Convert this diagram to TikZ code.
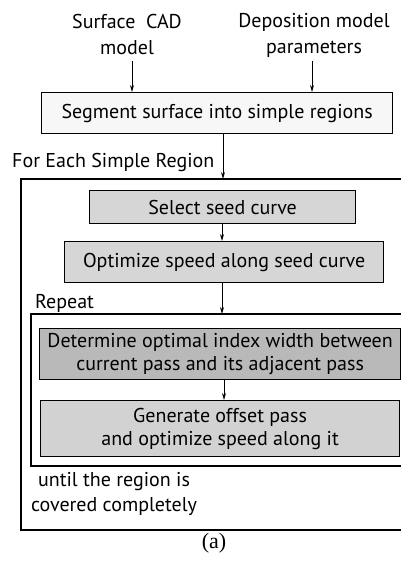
\documentclass[tikz,border=0pt]{standalone}
\usepackage{fontspec}
\setmainfont{PT Sans}
\newfontfamily\capfont{Liberation Serif}
\usetikzlibrary{arrows.meta}
\begin{document}
\begin{tikzpicture}[x=1pt,y=-1pt,
  every node/.style={font=\fontsize{20}{23}\selectfont, inner sep=0pt},
  boxa/.style={draw, line width=1.2pt, anchor=north west},
  arr/.style={-{Stealth[length=7pt,width=4pt]}, line width=0.8pt},
  frame/.style={line width=1.2pt}]
\useasboundingbox (0,0) rectangle (401,561);
\node[align=center, font=\fontsize{20}{26}\selectfont] (surf) at (127,35) {Surface\ \ CAD\\model};
\node[align=center, font=\fontsize{20}{26}\selectfont] (dep) at (314,35) {Deposition model\\parameters};
\node[boxa, fill=gray!6, minimum width=351pt, minimum height=41pt] (seg) at (41,92) {};
\node (segt) at (seg.center) {Segment surface into simple regions};
\coordinate (a1) at (132,61);
\coordinate (a2) at (312,61);
\draw[arr] (a1) -- (a1 |- seg.north);
\draw[arr] (a2) -- (a2 |- seg.north);
% outer frame
\coordinate (fo1) at (21,179);
\coordinate (fo2) at (21,530);
\draw[frame] (401,179) -- (fo1) -- (fo2) -- (401,530);
\node[anchor=base west] (fer) at (12,168) {For Each Simple Region};
\coordinate (b1) at (223,133);
\draw[arr] (b1) -- (b1 |- fo1);
\node[boxa, fill=gray!32, minimum width=266pt, minimum height=33pt] (sel) at (89,190) {};
\node (selt) at (sel.center) {Select seed curve};
\node[boxa, fill=gray!32, minimum width=319pt, minimum height=41pt] (opt) at (64,241) {};
\node (optt) at (opt.center) {Optimize speed along seed curve};
\coordinate (c1) at (222,223);
\draw[arr] (c1) -- (c1 |- opt.north);
% repeat frame
\coordinate (fr1) at (31,314);
\coordinate (fr2) at (31,466);
\draw[frame] (401,314) -- (fr1) -- (fr2) -- (401,466);
\node[anchor=base west] (rep) at (35,308) {Repeat};
\coordinate (d1) at (222,282);
\draw[arr] (d1) -- (d1 |- fr1);
\node[boxa, fill=gray!55, minimum width=361pt, minimum height=51pt] (det) at (39,328) {};
\node[align=center] (dett) at (det.center) {Determine optimal index width between\\current pass and its adjacent pass};
\node[boxa, fill=gray!35, minimum width=359pt, minimum height=56pt] (gen) at (40,400) {};
\node[align=center] (gent) at (gen.center) {Generate offset pass\\and optimize speed along it};
\coordinate (e1) at (224,379);
\draw[arr] (e1) -- (e1 |- gen.north);
\node[align=center, font=\fontsize{20}{25}\selectfont] (until) at (114,494) {until the region is\\covered completely};
\node[font=\capfont\fontsize{22}{24}\selectfont] (cap) at (214,543) {(a)};
\end{tikzpicture}
\end{document}
